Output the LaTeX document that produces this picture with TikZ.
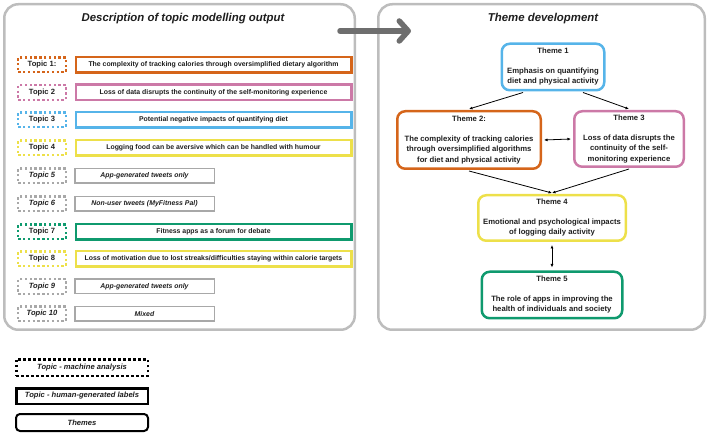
\documentclass[tikz,border=0pt]{standalone}
\usepackage{fontspec}
\setmainfont{Liberation Sans}
\usetikzlibrary{arrows.meta,positioning}
\definecolor{inkgray}{HTML}{1E1E1E}
\definecolor{panelgray}{HTML}{BDBDBD}
\definecolor{arrowgray}{HTML}{6E6E6E}
\definecolor{topicorange}{HTML}{D5651A}
\definecolor{topicpink}{HTML}{CC79A7}
\definecolor{topicblue}{HTML}{56B4E9}
\definecolor{topicyellow}{HTML}{EDE04A}
\definecolor{topicgreen}{HTML}{0F9A6E}
\definecolor{topicgray}{HTML}{A8A8A8}
\tikzset{
  panelbox/.style = {
    draw=panelgray,
    line width=2.5pt,
    rounded corners=14pt,
    minimum height=325.5pt
  },
  paneltitle/.style = {
    text=inkgray,
    font=\fontsize{11.4}{13}\selectfont\bfseries\itshape
  },
  topiclabel/.style = {
    draw=#1,
    dash pattern=on 2.4pt off 2.4pt,
    line width=2.4pt,
    inner sep=0pt,
    minimum width=47.6pt,
    minimum height=14.6pt,
    text=inkgray,
    font=\fontsize{7.6}{9}\selectfont\bfseries
  },
  topicbox/.style = {
    draw=#1,
    line width=2.5pt,
    inner sep=0pt,
    minimum width=275.5pt,
    minimum height=15.5pt,
    text=inkgray,
    font=\fontsize{6.9}{8}\selectfont\bfseries
  },
  topicshort/.style = {
    draw=topicgray,
    line width=1.5pt,
    inner sep=0pt,
    minimum width=139.5pt,
    minimum height=14.5pt,
    text=inkgray,
    font=\fontsize{6.9}{8}\selectfont\bfseries\itshape
  },
  themebox/.style = {
    draw=#1,
    line width=2.5pt,
    rounded corners=8pt,
    align=center,
    inner sep=2pt,
    text=inkgray,
    font=\fontsize{7.7}{10.5}\selectfont\bfseries
  },
  legendbox/.style = {
    draw=black,
    line width=2.5pt,
    inner sep=0pt,
    minimum width=131.5pt,
    text=inkgray,
    font=\fontsize{7.6}{9}\selectfont\bfseries\itshape
  },
  themearrow/.style = {
    -{Latex[length=3.5pt,width=3pt]},
    line width=0.8pt,
    black
  },
  themelink/.style = {
    {Latex[length=3.5pt,width=3pt]}-{Latex[length=3.5pt,width=3pt]},
    line width=0.8pt,
    black
  }
}

\begin{document}
\begin{tikzpicture}[x=1pt,y=-1pt]
    \useasboundingbox (0,0) rectangle (709,435);
    % panels
    \node[panelbox, minimum width=350.5pt] (leftpanel) at (179.5,167) {};
    \node[panelbox, minimum width=326.5pt] (rightpanel) at (541.5,167) {};
    \node[paneltitle] (lefttitle) at (183,19) {Description of topic modelling output};
    \node[paneltitle] (righttitle) at (543,19) {Theme development};
    % topics
    \node[topiclabel=topicorange] (topic1) at (42,65) {Topic 1:};
    \node[topicbox=topicorange, right=7.5pt of topic1] (label1) {The complexity of tracking calories through oversimplified dietary algorithm};
    \node[topiclabel=topicpink] (topic2) at (42,92.5) {Topic 2};
    \node[topicbox=topicpink, right=7.5pt of topic2] (label2) {Loss of data disrupts the continuity of the self-monitoring experience};
    \node[topiclabel=topicblue] (topic3) at (42,120) {Topic 3};
    \node[topicbox=topicblue, right=7.5pt of topic3] (label3) {Potential negative impacts of quantifying diet};
    \node[topiclabel=topicyellow] (topic4) at (42,148) {Topic 4};
    \node[topicbox=topicyellow, right=7.5pt of topic4] (label4) {Logging food can be aversive which can be handled with humour};
    \node[topiclabel=topicgray, font=\fontsize{7.6}{9}\selectfont\bfseries\itshape] (topic5) at (42,176) {Topic 5};
    \node[topicshort, right=7pt of topic5] (label5) {App-generated tweets only};
    \node[topiclabel=topicgray, font=\fontsize{7.6}{9}\selectfont\bfseries\itshape] (topic6) at (42,204) {Topic 6};
    \node[topicshort, right=7pt of topic6] (label6) {Non-user tweets (MyFitness Pal)};
    \node[topiclabel=topicgreen] (topic7) at (42,232) {Topic 7};
    \node[topicbox=topicgreen, right=7.5pt of topic7] (label7) {Fitness apps as a forum for debate};
    \node[topiclabel=topicyellow] (topic8) at (42,259) {Topic 8};
    \node[topicbox=topicyellow, right=7.5pt of topic8] (label8) {Loss of motivation due to lost streaks/difficulties staying within calorie targets};
    \node[topiclabel=topicgray, font=\fontsize{7.6}{9}\selectfont\bfseries\itshape] (topic9) at (42,286.5) {Topic 9};
    \node[topicshort, right=7pt of topic9] (label9) {App-generated tweets only};
    \node[topiclabel=topicgray, font=\fontsize{7.6}{9}\selectfont\bfseries\itshape] (topic10) at (42,314) {Topic 10};
    \node[topicshort, right=7pt of topic10] (label10) {Mixed};
    % themes
    \node[themebox=topicblue, minimum width=102.5pt, minimum height=46.5pt] (theme1) at (553,67) {Theme 1\\[9pt]Emphasis on quantifying\\diet and physical activity};
    \node[themebox=topicorange, minimum width=143.5pt, minimum height=57.5pt] (theme2) at (469,140) {Theme 2:\\[9pt]The complexity of tracking calories\\through oversimplified algorithms\\for diet and physical activity};
    \node[themebox=topicpink, minimum width=109.5pt, minimum height=55.5pt] (theme3) at (629,139) {Theme 3\\[9pt]Loss of data disrupts the\\continuity of the self-\\monitoring experience};
    \node[themebox=topicyellow, minimum width=147.5pt, minimum height=45.5pt] (theme4) at (552,218) {Theme 4\\[9pt]Emotional and psychological impacts\\of logging daily activity};
    \node[themebox=topicgreen, minimum width=140.5pt, minimum height=46.5pt] (theme5) at (552,295) {Theme 5\\[9pt]The role of apps in improving the\\health of individuals and society};
    \draw[themearrow] ([xshift=-30pt,yshift=-1pt]theme1.south) -- ([yshift=1pt]theme2.north);
    \draw[themearrow] ([xshift=30pt,yshift=-1pt]theme1.south) -- ([yshift=1pt]theme3.north);
    \draw[themelink] ([xshift=2pt]theme2.east) -- ([xshift=-2pt]theme3.west);
    \draw[themearrow] ([yshift=-1pt]theme2.south) -- ([yshift=1pt]theme4.north);
    \draw[themearrow] ([yshift=-1pt]theme3.south) -- ([yshift=1pt]theme4.north);
    \draw[themelink] ([yshift=-3pt]theme4.south) -- ([yshift=3pt]theme5.north);
    % move from topics to themes
    \coordinate (movefrom) at (340,31);
    \coordinate (moveto) at (411,31);
    \draw[arrowgray, line width=5.5pt, line cap=round, -{Straight Barb[length=9pt,width=20pt,round]}] (movefrom) -- (moveto);
    % legend
    \node[legendbox, dash pattern=on 2.5pt off 2.5pt, minimum height=16.5pt] (keymachine) at (82,367.5) {Topic - machine analysis};
    \node[legendbox, minimum height=15.5pt] (keyhuman) at (82,396) {Topic - human-generated labels};
    \node[legendbox, line width=2pt, rounded corners=4pt, minimum width=132pt, minimum height=17pt] (keythemes) at (82,422.5) {Themes};
\end{tikzpicture}
\end{document}
